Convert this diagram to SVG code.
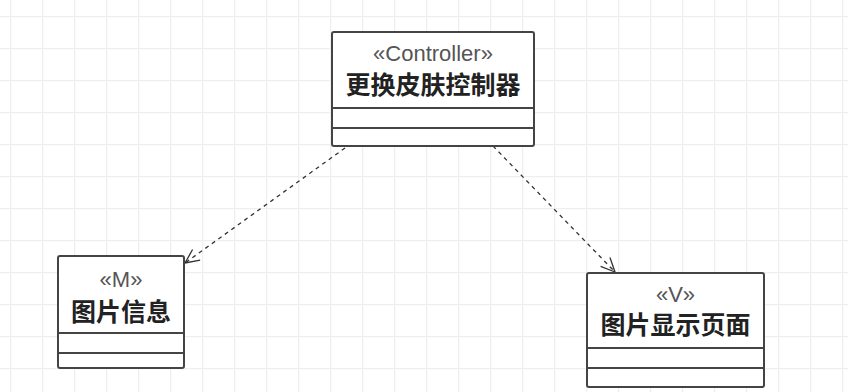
<svg xmlns="http://www.w3.org/2000/svg" width="848" height="392" viewBox="0 0 848 392">
  <defs>
    <pattern id="grid" x="10" y="16" width="32" height="32" patternUnits="userSpaceOnUse">
      <path d="M0.5 0 V32 M0 0.5 H32" fill="none" stroke="#efefef" stroke-width="1.5"/>
    </pattern>
    <marker id="open" markerWidth="18" markerHeight="18" refX="15" refY="9" orient="auto" markerUnits="userSpaceOnUse">
      <path d="M1 2.5 L15 9 L1 15.5" fill="none" stroke="#333" stroke-width="1.3"/>
    </marker>
  </defs>
  <style>
    .box { fill: #ffffff; stroke: #444; stroke-width: 2; }
    .div { stroke: #444; stroke-width: 2; }
    .st { font-family: "Liberation Sans", "Noto Sans", sans-serif; font-size: 22px; fill: #555; text-anchor: middle; }
    .nm { font-family: "Noto Sans CJK SC", "Noto Sans", sans-serif; font-size: 25px; font-weight: bold; fill: #222; text-anchor: middle; }
    .conn { fill: none; stroke: #333; stroke-width: 1.3; stroke-dasharray: 4 4; }
  </style>
  <rect x="0" y="0" width="848" height="392" fill="#ffffff"/>
  <rect x="0" y="0" width="848" height="392" fill="url(#grid)"/>

  <g id="connectors">
    <path class="conn" d="M345 148 L185 263" marker-end="url(#open)"/>
    <path class="conn" d="M493 146 L615 272" marker-end="url(#open)"/>
  </g>

  <g id="controller">
    <rect class="box" x="332" y="32" width="202" height="114" rx="2"/>
    <line class="div" x1="332" y1="108" x2="534" y2="108"/>
    <line class="div" x1="332" y1="128" x2="534" y2="128"/>
    <text class="st" x="433" y="61">«Controller»</text>
    <text class="nm" x="433" y="94">更换皮肤控制器</text>
  </g>

  <g id="model">
    <rect class="box" x="58" y="256" width="126" height="112" rx="2"/>
    <line class="div" x1="58" y1="333" x2="184" y2="333"/>
    <line class="div" x1="58" y1="353" x2="184" y2="353"/>
    <text class="st" x="121" y="287">«M»</text>
    <text class="nm" x="121" y="321">图片信息</text>
  </g>

  <g id="view">
    <rect class="box" x="587" y="273" width="177" height="114" rx="2"/>
    <line class="div" x1="587" y1="348" x2="764" y2="348"/>
    <line class="div" x1="587" y1="368" x2="764" y2="368"/>
    <text class="st" x="675.5" y="302">«V»</text>
    <text class="nm" x="675.5" y="334">图片显示页面</text>
  </g>
</svg>
